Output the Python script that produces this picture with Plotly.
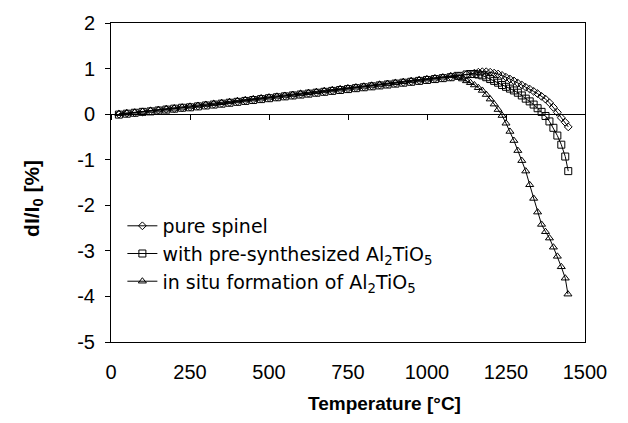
import plotly.graph_objects as go

# Rising part (shared temperature grid), °C
t_rise = [25, 50, 75, 100, 125, 150, 175, 200, 225, 250, 275, 300, 325, 350, 375, 400,
          425, 450, 475, 500, 525, 550, 575, 600, 625, 650, 675, 700, 725, 750, 775, 800,
          825, 850, 875, 900, 925, 950, 975, 1000, 1025, 1050, 1075]

spinel_rise = [0.00, 0.02, 0.03, 0.05, 0.07, 0.09, 0.11, 0.12, 0.14, 0.16, 0.18, 0.20, 0.22, 0.24,
               0.26, 0.28, 0.30, 0.32, 0.34, 0.36, 0.38, 0.40, 0.42, 0.44, 0.46, 0.48, 0.50, 0.52,
               0.54, 0.56, 0.58, 0.60, 0.62, 0.64, 0.66, 0.68, 0.70, 0.72, 0.74, 0.76, 0.78, 0.80, 0.82]
pre_rise = [-0.01, 0.01, 0.03, 0.05, 0.06, 0.08, 0.10, 0.12, 0.14, 0.15, 0.17, 0.19, 0.21, 0.23,
            0.25, 0.27, 0.29, 0.31, 0.33, 0.35, 0.37, 0.39, 0.41, 0.43, 0.45, 0.47, 0.49, 0.51,
            0.53, 0.55, 0.57, 0.59, 0.61, 0.63, 0.65, 0.67, 0.69, 0.71, 0.73, 0.75, 0.77, 0.79, 0.81]
insitu_rise = [0.01, 0.02, 0.04, 0.06, 0.08, 0.09, 0.11, 0.13, 0.15, 0.17, 0.19, 0.21, 0.23, 0.25,
               0.27, 0.29, 0.31, 0.33, 0.35, 0.37, 0.39, 0.41, 0.43, 0.45, 0.47, 0.49, 0.51, 0.53,
               0.55, 0.57, 0.59, 0.61, 0.63, 0.65, 0.67, 0.69, 0.71, 0.73, 0.75, 0.77, 0.79, 0.81, 0.84]

# High-temperature parts
t_spinel_hi = [1100, 1125, 1150, 1162.5, 1175, 1187.5, 1200, 1212.5, 1225, 1237.5, 1250, 1262.5,
               1275, 1287.5, 1300, 1312.5, 1325, 1337.5, 1350, 1362.5, 1375, 1387.5, 1400,
               1412.5, 1425, 1437.5, 1447]
spinel_hi = [0.84, 0.87, 0.90, 0.92, 0.93, 0.93, 0.92, 0.90, 0.88, 0.85, 0.81, 0.77, 0.73, 0.68,
             0.64, 0.59, 0.55, 0.50, 0.45, 0.39, 0.33, 0.25, 0.15, 0.04, -0.08, -0.18, -0.28]

t_pre_hi = [1100, 1125, 1137.5, 1150, 1162.5, 1175, 1187.5, 1200, 1212.5, 1225, 1237.5, 1250,
            1262.5, 1275, 1287.5, 1300, 1312.5, 1325, 1337.5, 1350, 1362.5, 1375, 1387.5, 1400,
            1412.5, 1425, 1437.5, 1447]
pre_hi = [0.84, 0.87, 0.88, 0.88, 0.87, 0.85, 0.81, 0.77, 0.73, 0.69, 0.64, 0.60, 0.56, 0.52,
          0.47, 0.41, 0.34, 0.28, 0.21, 0.13, 0.05, -0.04, -0.16, -0.30, -0.47, -0.67, -0.93, -1.25]

t_insitu_hi = [1087.5, 1100, 1112.5, 1125, 1137.5, 1150, 1162.5, 1175, 1187.5, 1200, 1212.5, 1225,
               1237.5, 1250, 1262.5, 1275, 1287.5, 1300, 1312.5, 1325, 1337.5, 1350, 1362.5,
               1375, 1387.5, 1400, 1412.5, 1425, 1437.5, 1446]
insitu_hi = [0.85, 0.81, 0.77, 0.73, 0.69, 0.64, 0.58, 0.52, 0.43, 0.33, 0.22, 0.10, -0.03, -0.20,
             -0.38, -0.58, -0.80, -1.02, -1.25, -1.55, -1.85, -2.15, -2.42, -2.58, -2.72, -2.92,
             -3.12, -3.35, -3.60, -3.95]

names = ["pure spinel",
         "with pre-synthesized Al<sub>2</sub>TiO<sub>5</sub>",
         "in situ formation of Al<sub>2</sub>TiO<sub>5</sub>"]
x_ticks = [0, 250, 500, 750, 1000, 1250, 1500]
y_ticks = [2, 1, 0, -1, -2, -3, -4, -5]
y_tick_text = ["2", "1", "0", "-1", "-2", "-3", "-4", "-5"]
x_title = "<b>Temperature [°C]</b>"
y_title = "<b>dI/I<sub>0</sub> [%]</b>"

FONT = "Liberation Sans, Arial, sans-serif"
LEGEND_FONT = "DejaVu Sans, Liberation Sans, sans-serif"

series = [
    (t_rise + t_spinel_hi, spinel_rise + spinel_hi, "diamond-open", 6),
    (t_rise + t_pre_hi, pre_rise + pre_hi, "square-open", 7),
    (t_rise + t_insitu_hi, insitu_rise + insitu_hi, "triangle-up-open", 7),
]

fig = go.Figure()
for (xs, ys, sym, sz), nm in zip(series, names):
    fig.add_trace(go.Scatter(
        x=xs, y=ys, name=nm, mode="lines+markers",
        line=dict(color="black", width=1),
        marker=dict(symbol=sym, size=sz, color="black", line=dict(color="black", width=1)),
    ))

# helper trace for the axis that crosses at y = 0
fig.add_trace(go.Scatter(x=t_rise, y=spinel_rise, xaxis="x2", mode="markers",
                         marker=dict(opacity=0), showlegend=False, hoverinfo="skip"))

fig.update_layout(
    width=628, height=423,
    margin=dict(l=111, r=43, t=16, b=81),
    paper_bgcolor="white", plot_bgcolor="white",
    font=dict(family=FONT, size=20, color="black"),
    showlegend=True,
    legend=dict(x=0.024, y=0.276, xanchor="left", yanchor="middle",
                bgcolor="rgba(0,0,0,0)", font=dict(size=19, family=LEGEND_FONT),
                tracegroupgap=0, itemwidth=30),
    xaxis=dict(range=[0, 1500], tickvals=x_ticks, ticks="", showgrid=False, zeroline=False,
               showline=True, linecolor="black", linewidth=1, mirror=True,
               ticklabelstandoff=12, tickfont=dict(size=20)),
    xaxis2=dict(range=[0, 1500], tickvals=x_ticks, overlaying="x", anchor="free",
                position=5 / 7, side="bottom", ticks="outside", ticklen=5, tickcolor="black",
                showticklabels=False, showgrid=False, zeroline=False,
                showline=True, linecolor="black", linewidth=1),
    yaxis=dict(range=[-5, 2], tickvals=y_ticks, ticktext=y_tick_text, ticks="outside",
               ticklen=5, tickcolor="black", tickfont=dict(size=20), ticklabelstandoff=6,
               showgrid=False, zeroline=False, showline=True, linecolor="black", linewidth=1,
               mirror=True),
    annotations=[
        dict(text=x_title, xref="paper", yref="paper", x=0.578, y=-0.193,
             xanchor="center", yanchor="middle", showarrow=False, font=dict(size=19)),
        dict(text=y_title, xref="paper", yref="paper", x=-0.165, y=0.451, textangle=-90,
             xanchor="center", yanchor="middle", showarrow=False, font=dict(size=21)),
    ],
)

fig.write_html("out.html")
